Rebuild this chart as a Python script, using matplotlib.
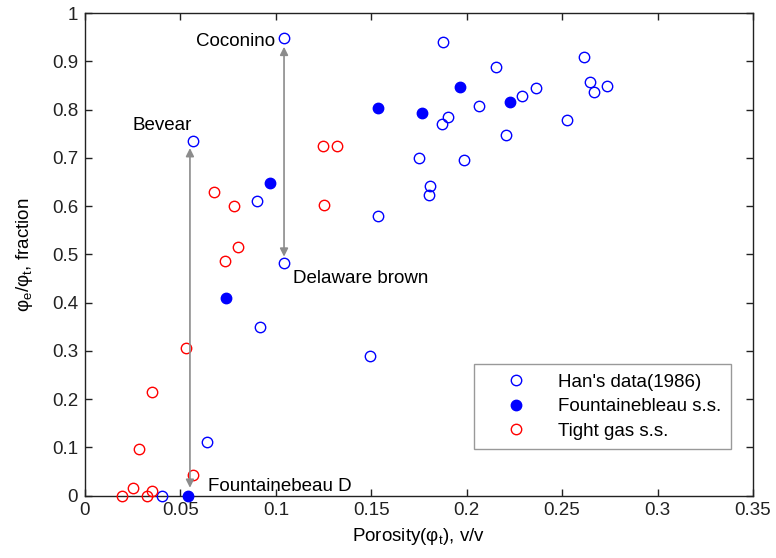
import matplotlib
matplotlib.use("Agg")
import matplotlib.pyplot as plt
from matplotlib.ticker import FuncFormatter

plt.rcParams["font.family"] = ["Liberation Sans", "DejaVu Sans"]
plt.rcParams["mathtext.default"] = "regular"

# ── Data: total porosity vs effective/total porosity ratio ────────────────────
han_phi = [0.1045, 0.0568, 0.1878, 0.2154, 0.2614, 0.2647, 0.2668, 0.2735,
           0.2364, 0.2292, 0.2067, 0.1901, 0.1871, 0.2527, 0.2208, 0.1751,
           0.1987, 0.1810, 0.1800, 0.1534, 0.0902, 0.0916, 0.1494, 0.1043,
           0.0638, 0.0402]
han_ratio = [0.948, 0.735, 0.940, 0.889, 0.908, 0.858, 0.836, 0.849,
             0.844, 0.828, 0.807, 0.785, 0.769, 0.778, 0.748, 0.700,
             0.695, 0.642, 0.623, 0.580, 0.610, 0.349, 0.290, 0.481,
             0.111, 0.000]

fb_phi   = [0.0970, 0.0741, 0.1536, 0.1765, 0.1966, 0.2228, 0.0541]
fb_ratio = [0.647, 0.410, 0.804, 0.793, 0.847, 0.816, 0.000]

tg_phi   = [0.0678, 0.0779, 0.1246, 0.1319, 0.1253, 0.0800, 0.0734, 0.0529,
            0.0350, 0.0281, 0.0565, 0.0250, 0.0192, 0.0350, 0.0325]
tg_ratio = [0.628, 0.599, 0.724, 0.724, 0.602, 0.516, 0.487, 0.306,
            0.214, 0.097, 0.042, 0.016, 0.000, 0.009, 0.000]

FS = 13.5

# ── Plot ───────────────────────────────────────────────────────────────────────
fig = plt.figure(figsize=(7.76, 5.58), dpi=100)
ax = fig.add_axes([0.1095, 0.1120, 0.8608, 0.8647])

ax.plot(han_phi, han_ratio, "o", mfc="none", mec="blue", ms=7.5, mew=1.0,
        label="Han's data(1986)", zorder=3, clip_on=False)
ax.plot(fb_phi, fb_ratio, "o", mfc="blue", mec="blue", ms=7.5, mew=1.0,
        label="Fountainebleau s.s.", zorder=3, clip_on=False)
ax.plot(tg_phi, tg_ratio, "o", mfc="none", mec="red", ms=7.5, mew=1.0,
        label="Tight gas s.s.", zorder=3, clip_on=False)

# double-headed arrows between the end members
arrow_kw = dict(arrowstyle="<|-|>", color="#8c8c8c", lw=1.2,
                mutation_scale=12, shrinkA=0, shrinkB=0)
ax.annotate("", xy=(0.0550, 0.720), xytext=(0.0550, 0.016), arrowprops=arrow_kw)
ax.annotate("", xy=(0.1043, 0.930), xytext=(0.1043, 0.495), arrowprops=arrow_kw)

ax.text(0.0996, 0.940, "Coconino", ha="right", va="center", fontsize=FS)
ax.text(0.0406, 0.767, "Bevear", ha="center", va="center", fontsize=FS)
ax.text(0.1092, 0.449, "Delaware brown", ha="left", va="center", fontsize=FS)
ax.text(0.0646, 0.018, "Fountainebeau D", ha="left", va="center", fontsize=FS)

ax.set_xlim(0, 0.35)
ax.set_ylim(0, 1)
ax.set_xticks([0, 0.05, 0.1, 0.15, 0.2, 0.25, 0.3, 0.35])
ax.set_yticks([0, 0.1, 0.2, 0.3, 0.4, 0.5, 0.6, 0.7, 0.8, 0.9, 1])
fmt = FuncFormatter(lambda v, pos: f"{v:g}")
ax.xaxis.set_major_formatter(fmt)
ax.yaxis.set_major_formatter(fmt)
ax.tick_params(direction="in", top=True, right=True, length=5, width=1,
               labelsize=FS, colors="#222222", pad=5)
for s in ax.spines.values():
    s.set_linewidth(1.0)
    s.set_color("#222222")

ax.set_xlabel("Porosity(φ$_{t}$), v/v", fontsize=FS, labelpad=5)
ax.set_ylabel("φ$_{e}$/φ$_{t}$, fraction", fontsize=FS, labelpad=12)

leg = ax.legend(loc="lower right", bbox_to_anchor=(0.9666, 0.0957), fontsize=FS,
                frameon=True, fancybox=False, edgecolor="#808080",
                handlelength=3.5, handletextpad=0.5, borderpad=0.5,
                labelspacing=0.4, borderaxespad=0)
leg.get_frame().set_linewidth(1.0)

fig.savefig("out.png", dpi=100)
